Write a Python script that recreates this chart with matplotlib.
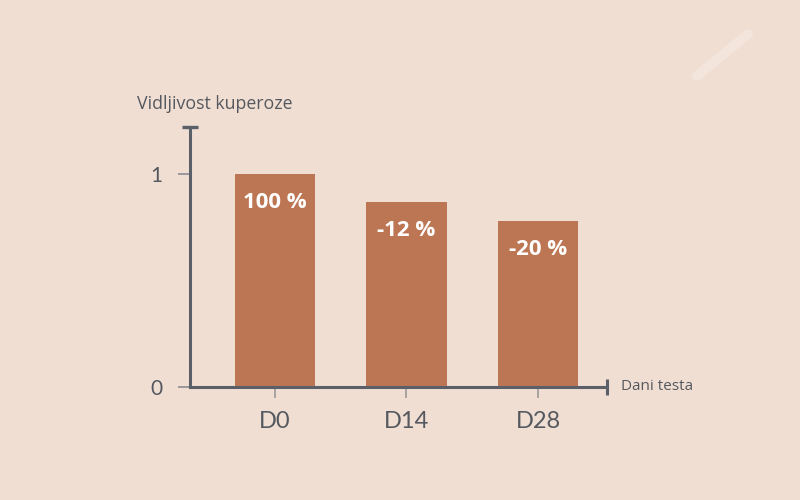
import matplotlib
matplotlib.use("Agg")
import matplotlib.pyplot as plt

categories = ["D0", "D14", "D28"]
values = [1.0, 0.87, 0.78]
bar_labels = ["100 %", "-12 %", "-20 %"]
y_ticks = [0, 1]
y_label = "Vidljivost kuperoze"
x_label = "Dani testa"

bg = "#F0DED3"
bar_color = "#BC7654"
axis_color = "#5B6068"
text_color = "#55595F"

plt.rcParams["font.family"] = ["Open Sans", "DejaVu Sans"]

fig = plt.figure(figsize=(8, 5), dpi=100, facecolor=bg)
ax = fig.add_axes([190/800, (500-387)/500, (607-190)/800, (387-127)/500])
ax.set_facecolor(bg)

x = list(range(len(categories)))
ax.bar(x, values, width=0.61, color=bar_color, zorder=2)
ax.set_xlim(-0.646, 2.525)
ax.set_ylim(0, 1.2235)

for xi, v, lab in zip(x, values, bar_labels):
    ax.annotate(lab, (xi, v), xytext=(0, -28), textcoords="offset pixels",
                ha="center", va="center", color="white", fontsize=16,
                fontweight="bold", family=["Open Sans", "DejaVu Sans"])

for s in ["top", "right"]:
    ax.spines[s].set_visible(False)
for s in ["left", "bottom"]:
    ax.spines[s].set_color(axis_color)
    ax.spines[s].set_linewidth(2.2)
    ax.spines[s].set_zorder(3)

# end caps
ax.plot([0], [1], marker="_", markersize=12, markeredgewidth=2.4,
        color=axis_color, clip_on=False, transform=ax.transAxes, zorder=4)
ax.plot([1], [0], marker="|", markersize=12, markeredgewidth=2.2,
        color=axis_color, clip_on=False, transform=ax.transAxes, zorder=4)

ax.set_yticks(y_ticks)
ax.set_yticklabels([str(t) for t in y_ticks])
ax.tick_params(axis="y", direction="out", length=9, width=1.2, colors="#8A8C90",
               labelcolor=text_color, labelsize=15, pad=11)
ax.set_xticks(x)
ax.set_xticklabels(categories, family=["Lato", "DejaVu Sans"])
ax.tick_params(axis="x", direction="out", length=8, width=1.2, colors="#9A9A9A",
               labelcolor=text_color, labelsize=17, pad=9)
for lab in ax.get_yticklabels():
    lab.set_family(["Lato", "DejaVu Sans"])

fig.text(137/800, 1 - 104/500, y_label, ha="left", va="center",
         fontsize=12.8, color=text_color)
fig.text(621/800, 1 - 386/500, x_label, ha="left", va="center",
         fontsize=11, color=text_color)

# faint decorative streak
fig.add_artist(plt.Line2D([697/800, 748/800], [1-76/500, 1-34/500],
                          transform=fig.transFigure, color="white", alpha=0.22,
                          linewidth=7, solid_capstyle="round"))

fig.savefig("out.png", dpi=100, facecolor=bg)
